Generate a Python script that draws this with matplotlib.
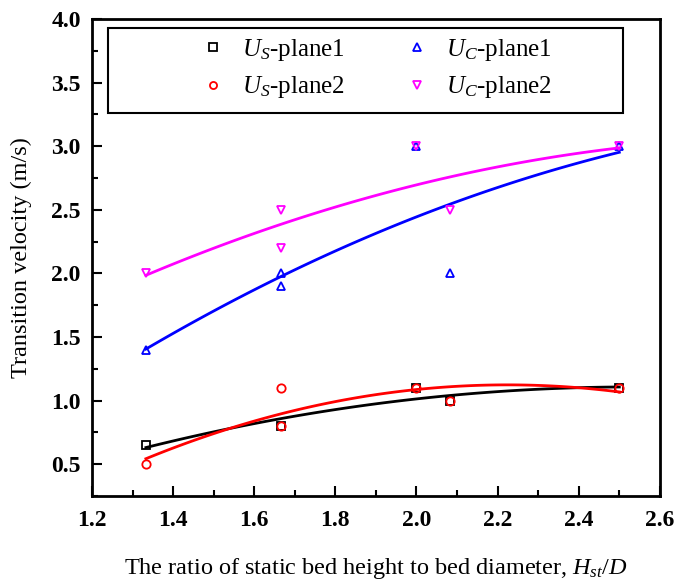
import numpy as np
import matplotlib
matplotlib.use('Agg')
import matplotlib.pyplot as plt
from matplotlib.patches import Rectangle
from matplotlib.ticker import MultipleLocator

plt.rcParams['font.family'] = ['Liberation Serif', 'DejaVu Serif']
plt.rcParams['mathtext.fontset'] = 'custom'
plt.rcParams['mathtext.it'] = 'Liberation Serif:italic'
plt.rcParams['mathtext.rm'] = 'Liberation Serif'

# measured points (H_st/D, velocity m/s)
x_us1 = [1.333, 1.667, 2.0, 2.083, 2.5]
y_us1 = [0.65, 0.8, 1.1, 1.0, 1.1]
x_us2 = [1.333, 1.667, 1.667, 2.0, 2.083, 2.5]
y_us2 = [0.5, 0.8, 1.1, 1.1, 1.0, 1.1]
x_uc1 = [1.333, 1.667, 1.667, 2.0, 2.083, 2.5]
y_uc1 = [1.4, 1.9, 2.0, 3.0, 2.0, 3.0]
x_uc2 = [1.333, 1.667, 1.667, 2.0, 2.083, 2.5]
y_uc2 = [2.0, 2.2, 2.5, 3.0, 2.5, 3.0]

series = [
    (x_us1, y_us1, 's', 'black', r'$U_S$-plane1'),
    (x_us2, y_us2, 'o', 'red', r'$U_S$-plane2'),
    (x_uc1, y_uc1, '^', 'blue', r'$U_C$-plane1'),
    (x_uc2, y_uc2, 'v', 'magenta', r'$U_C$-plane2'),
]

fig = plt.figure(figsize=(6.81, 5.86), dpi=100)
ax = fig.add_axes([0.135, 0.1536, 0.834, 0.814])

handles = []
for xs, ys, m, c, lab in series:
    # quadratic fit curve
    p = np.polyfit(xs, ys, 2)
    xf = np.linspace(min(xs), max(xs), 100)
    ax.plot(xf, np.polyval(p, xf), color=c, lw=2)
    h, = ax.plot(xs, ys, m, mfc='none', mec=c, mew=1.3, ms=6, ls='none', label=lab)
    handles.append(h)

ax.set_xlim(1.2, 2.6)
ax.set_ylim(0.25, 4.0)
ax.xaxis.set_major_locator(MultipleLocator(0.2))
ax.xaxis.set_minor_locator(MultipleLocator(0.1))
ax.yaxis.set_major_locator(MultipleLocator(0.5))
ax.yaxis.set_minor_locator(MultipleLocator(0.25))
ax.tick_params(which='both', direction='in', width=1.5, top=False, right=False)
ax.tick_params(which='major', length=7, labelsize=17)
ax.tick_params(axis='x', which='major', pad=10)
ax.tick_params(axis='y', which='major', pad=8)
ax.tick_params(which='minor', length=4)
for lbl in ax.get_xticklabels() + ax.get_yticklabels():
    lbl.set_fontweight('bold')
for s in ax.spines.values():
    s.set_linewidth(2)

ax.set_xlabel(r'The ratio of static bed height to bed diameter, $H_{st}/D$', fontsize=17.5, labelpad=18)
ax.set_ylabel('Transition velocity (m/s)', fontsize=17.5, labelpad=14)

# legend box drawn as a frame, two frameless legends inside it
ax.add_patch(Rectangle((0.028, 0.803), 0.907, 0.178, transform=ax.transAxes,
                       facecolor='white', edgecolor='black', lw=1.5, zorder=4))
kw = dict(loc='upper left', fontsize=18, frameon=False, borderpad=0, borderaxespad=0,
          handlelength=1.0, handletextpad=0.66, labelspacing=0.45, markerscale=0.85)
leg1 = ax.legend(handles=handles[:2], bbox_to_anchor=(0.191, 0.962), **kw)
ax.add_artist(leg1)
leg2 = ax.legend(handles=handles[2:], bbox_to_anchor=(0.550, 0.962), **kw)
leg1.set_zorder(5)
leg2.set_zorder(5)

fig.savefig('out.png', dpi=100)
